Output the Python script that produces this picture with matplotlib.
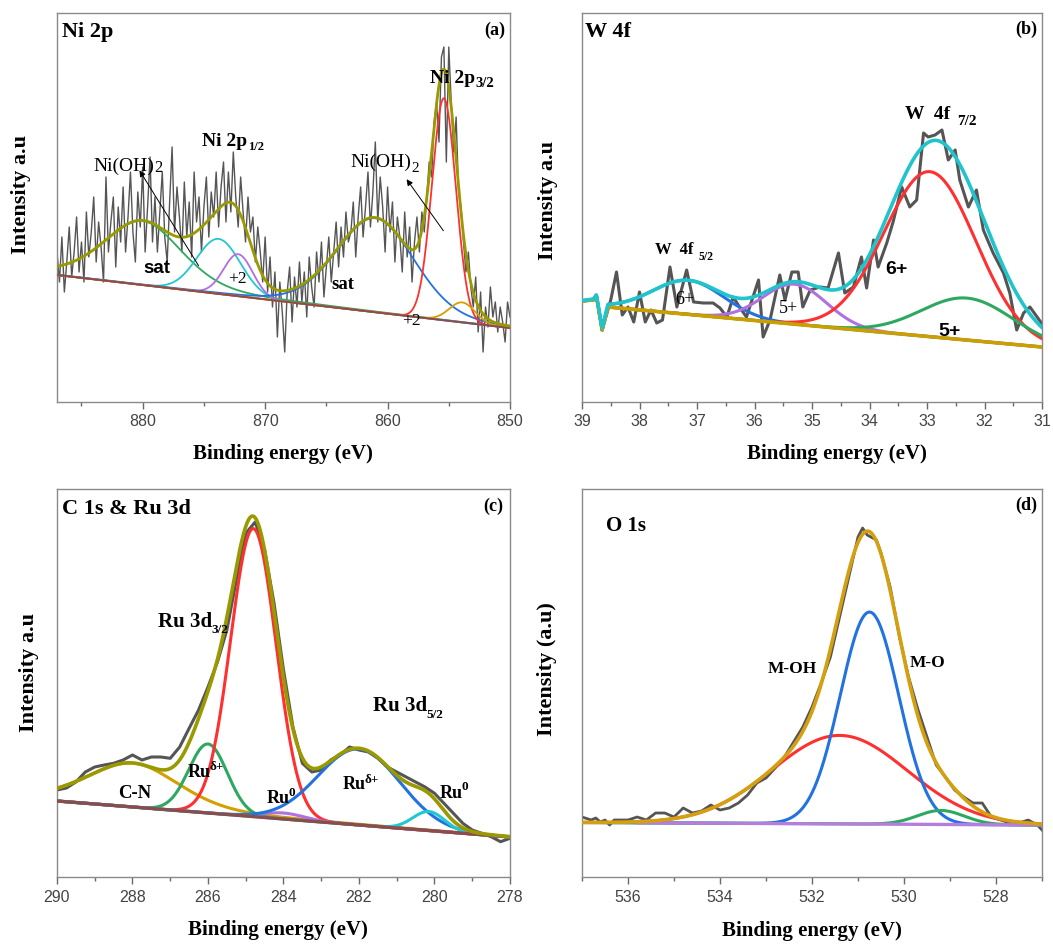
import numpy as np
import matplotlib
matplotlib.use('Agg')
import matplotlib.pyplot as plt
from matplotlib.ticker import MultipleLocator

W, H = 1053, 944
SERIF = 'Liberation Serif'
SANS = 'Liberation Sans'

# ---------------- data ----------------
# (a) Ni 2p : raw counts, 887.0 -> 850.0 eV, 0.2 eV step
E_a = np.round(np.arange(887.0, 849.99, -0.2), 1)
I_a = [150, 120, 165, 110, 140, 175, 125, 150, 185, 130,
       160, 120, 190, 145, 170, 205, 140, 180, 155, 120,
       225, 150, 180, 205, 135, 195, 160, 215, 150, 185,
       230, 170, 140, 210, 175, 235, 150, 195, 245, 160,
       205, 150, 190, 230, 165, 140, 200, 255, 170, 215,
       185, 150, 220, 165, 200, 145, 230, 180, 205, 150,
       195, 225, 165, 210, 185, 230, 175, 215, 240, 180,
       230, 190, 250, 205, 175, 225, 190, 160, 205, 170,
       185, 140, 175, 150, 120, 165, 110, 145, 95, 130,
       65, 120, 90, 50, 110, 135, 80, 125, 95, 140,
       100, 130, 85, 145, 115, 95, 150, 120, 160, 105,
       135, 165, 120, 150, 180, 135, 175, 145, 190, 160,
       170, 200, 145, 185, 215, 165, 195, 230, 175, 210,
       260, 180, 225, 195, 150, 215, 170, 200, 140, 185,
       165, 130, 190, 145, 175, 120, 160, 185, 150, 190,
       170, 205, 240, 225, 280, 300, 260, 345, 355, 240,
       355, 300, 250, 285, 210, 195, 160, 130, 150, 115,
       95, 125, 70, 110, 50, 95, 75, 115, 85, 100,
       70, 95, 80, 60, 100, 85]
bg_a_E = [887.0, 850.0]
bg_a_I = [127, 74]
# peaks: centre (eV), height, FWHM (eV), Lorentzian fraction
pk_a_c = [880.0, 873.8, 872.2, 861.0, 855.4, 853.9]
pk_a_h = [64, 55, 42, 94, 222, 20]
pk_a_w = [7.5, 4.2, 2.8, 7.5, 2.3, 2.5]
pk_a_e = [0.3, 0.0, 0.0, 0.15, 0.0, 0.0]
pk_a_col = ['#2ea860', '#22c8d0', '#b070e0', '#2272e0', '#ff3030', '#d4a000']

# (b) W 4f
E_b = [38.65, 38.6, 38.5, 38.4, 38.3, 38.2, 38.1, 38.0, 37.9, 37.8,
       37.7, 37.6, 37.47, 37.35, 37.18, 37.06, 36.89, 36.72, 36.6, 36.48,
       36.37, 36.25, 36.14, 35.93, 35.85, 35.73, 35.56, 35.47, 35.35, 35.24,
       35.16, 35.03, 34.86, 34.72, 34.54, 34.43, 34.28, 34.14, 34.05, 33.93,
       33.85, 33.7, 33.59, 33.44, 33.3, 33.18, 33.06, 32.98, 32.86, 32.74,
       32.63, 32.51, 32.43, 32.28, 32.14, 32.02, 31.85, 31.67, 31.56, 31.44,
       31.32, 31.21, 31.01]
I_b = [72, 82, 102, 130, 87, 95, 80, 110, 80, 92,
       79, 82, 135, 95, 132, 100, 99, 99, 94, 85,
       105, 94, 85, 122, 65, 82, 127, 102, 130, 130,
       95, 112, 115, 114, 149, 109, 115, 145, 114, 162,
       135, 159, 180, 215, 195, 202, 269, 265, 267, 272,
       242, 252, 222, 195, 212, 172, 149, 129, 109, 72,
       89, 95, 79]
bg_b_E = [39.0, 38.8, 38.75, 38.65, 38.55, 31.0]
bg_b_I = [101, 102, 106, 72, 95, 55]
pk_b_c = [37.15, 35.3, 32.95, 32.3]
pk_b_h = [34, 40, 165, 42]
pk_b_w = [1.45, 1.3, 1.88, 1.88]
pk_b_e = [0.0, 0.0, 0.0, 0.0]
pk_b_col = ['#2272e0', '#b070e0', '#ff3030', '#2ea860']

# (c) C 1s & Ru 3d : 290 -> 278 eV, 0.25 eV step
E_c = np.round(np.arange(290.0, 277.99, -0.25), 2)
I_c = [87, 89, 95, 105, 110, 112, 113.7, 117, 122, 117,
       120, 120, 118.7, 130, 148.7, 167, 190, 215, 247, 297,
       343.7, 355, 327, 273.7, 207, 150, 113.7, 105, 107, 117,
       122, 130, 127, 125, 118.7, 110, 105, 100, 95, 90,
       83.7, 73.7, 63.7, 53.7, 47, 43.7, 40.3, 35.3, 38.7]
bg_c_E = [290.0, 278.0]
bg_c_I = [76, 40]
pk_c_c = [288.0, 286.0, 284.8, 284.0, 282.0, 280.15]
pk_c_h = [44, 69, 288, 6, 76, 19]
pk_c_w = [2.9, 1.2, 1.42, 1.3, 2.55, 1.0]
pk_c_e = [0.3, 0.0, 0.0, 0.0, 0.0, 0.0]
pk_c_col = ['#d4a000', '#2ea860', '#ff3030', '#b070e0', '#2272e0', '#22c8d0']

# (d) O 1s
E_d = [537.0, 536.8, 536.7, 536.6, 536.5, 536.4, 536.3, 536.0, 535.8, 535.6,
       535.4, 535.2, 535.0, 534.8, 534.6, 534.4, 534.2, 534.0, 533.8, 533.6,
       533.4, 533.2, 533.0, 532.8, 532.6, 532.4, 532.2, 532.0, 531.8, 531.6,
       531.4, 531.2, 531.0, 530.9, 530.8, 530.6, 530.5, 530.3, 530.1, 529.9,
       529.7, 529.5, 529.3, 529.1, 528.9, 528.7, 528.5, 528.3, 528.1, 527.9,
       527.7, 527.5, 527.3, 527.1, 527.0]
I_d = [60, 57, 59, 55, 57, 52, 57, 57, 60, 57,
       64, 64, 60, 69, 64, 66, 72, 67, 69, 74,
       82, 94, 99, 109, 120, 135, 150, 170, 194, 220,
       260, 300, 340, 349, 342, 337, 324, 290, 240, 200,
       168, 140, 112, 100, 87, 80, 74, 74, 60, 57,
       54, 54, 57, 52, 47]
bg_d_E = [537.0, 527.0]
bg_d_I = [54.5, 52]
pk_d_c = [531.4, 530.75, 529.2]
pk_d_h = [88.5, 212, 14]
pk_d_w = [3.47, 1.5, 1.2]
pk_d_e = [0.0, 0.0, 0.0]
pk_d_col = ['#ff3030', '#2272e0', '#2ea860']


def pv(x, c, h, f, eta):
    d = (x - c) / f
    return h * (eta / (1 + 4 * d * d) + (1 - eta) * np.exp(-4 * np.log(2) * d * d))


fig = plt.figure(figsize=(W / 100, H / 100), dpi=100)
renderer = fig.canvas.get_renderer()


def make_ax(l, t, r, b):
    ax = fig.add_axes([l / W, 1 - b / H, (r - l) / W, (b - t) / H])
    for s in ax.spines.values():
        s.set_color('#8a8a8a')
        s.set_linewidth(1.0)
    ax.set_yticks([])
    ax.tick_params(axis='x', which='major', direction='out', length=5, width=1,
                   color='#6a6a6a', labelsize=11.5, labelcolor='#444444', pad=4)
    ax.tick_params(axis='x', which='minor', direction='out', length=3, width=1,
                   color='#6a6a6a')
    return ax


def draw_panel(ax, xlim, E, I, bgE, bgI, pc, ph, pw, pe, pcol, env_col,
               bg_col, raw_lw, lw, env_lw, bg_lw, bg_range=None):
    x = np.linspace(xlim[0], xlim[1], 2000)
    bg = np.interp(x, np.array(bgE)[::-1], np.array(bgI)[::-1])
    ax.plot(E, I, color='#555555', lw=raw_lw, zorder=1)
    total = np.zeros_like(x)
    for c, h, w, e, col in zip(pc, ph, pw, pe, pcol):
        y = pv(x, c, h, w, e)
        total += y
        ax.plot(x, bg + y, color=col, lw=lw, zorder=3)
    if bg_range is None:
        m = np.ones_like(x, dtype=bool)
    else:
        m = (x <= bg_range[0]) & (x >= bg_range[1])
    ax.plot(x[m], bg[m], color=bg_col, lw=bg_lw, zorder=3.5)
    ax.plot(x, bg + total, color=env_col, lw=env_lw, zorder=4)
    ax.set_xlim(*xlim)


def ftext(x, y, s, size, weight='bold', family=SERIF, sub=None, sup=None,
          ssize=9, dy=0, gap=0.5, **kw):
    t = fig.text(x / W, 1 - y / H, s, fontsize=size, fontweight=weight,
                 family=family, ha='left', va='baseline', **kw)
    if sub is not None or sup is not None:
        bb = t.get_window_extent(renderer)
        x2 = bb.x1 + gap
        fig.text(x2 / W, 1 - (y + dy) / H, sub if sub is not None else sup,
                 fontsize=ssize, fontweight=weight, family=family,
                 ha='left', va='baseline', **kw)
    return t


# ---------------- panel a ----------------
axa = make_ax(57, 13, 510, 402)
draw_panel(axa, (887, 850), E_a, I_a, bg_a_E, bg_a_I, pk_a_c, pk_a_h, pk_a_w,
           pk_a_e, pk_a_col, '#9a9a00', '#8b4c4c', 1.0, 1.3, 2.0, 1.4)
axa.set_ylim(0, 389)
axa.xaxis.set_major_locator(MultipleLocator(10))
axa.xaxis.set_minor_locator(MultipleLocator(5))

# ---------------- panel b ----------------
axb = make_ax(582, 13, 1042, 402)
draw_panel(axb, (39, 31), E_b, I_b, bg_b_E, bg_b_I, pk_b_c, pk_b_h, pk_b_w,
           pk_b_e, pk_b_col, '#1fc4cc', '#c9a000', 2.2, 2.2, 2.6, 2.6)
axb.set_ylim(0, 389)
axb.xaxis.set_major_locator(MultipleLocator(1))
axb.xaxis.set_minor_locator(MultipleLocator(0.5))

# ---------------- panel c ----------------
axc = make_ax(57, 489, 510, 877)
draw_panel(axc, (290, 278), E_c, I_c, bg_c_E, bg_c_I, pk_c_c, pk_c_h, pk_c_w,
           pk_c_e, pk_c_col, '#9a9a00', '#8b4c4c', 2.2, 2.2, 2.6, 2.4)
axc.set_ylim(0, 388)
axc.xaxis.set_major_locator(MultipleLocator(2))
axc.xaxis.set_minor_locator(MultipleLocator(1))

# ---------------- panel d ----------------
axd = make_ax(582, 489, 1042, 877)
draw_panel(axd, (537, 527), E_d, I_d, bg_d_E, bg_d_I, pk_d_c, pk_d_h, pk_d_w,
           pk_d_e, pk_d_col, '#d4a010', '#b57edc', 2.0, 2.2, 2.6, 2.4,
           bg_range=(535.8, 527))
axd.set_ylim(0, 388)
axd.xaxis.set_major_locator(MultipleLocator(2))
axd.xaxis.set_minor_locator(MultipleLocator(1))

for ax in (axa, axb, axc, axd):
    for lab in ax.get_xticklabels():
        lab.set_family(SANS)

# ---------------- axis labels ----------------
for xc, yb in ((283, 459), (837, 459), (278, 935), (812, 936)):
    fig.text(xc / W, 1 - yb / H, 'Binding energy (eV)', fontsize=15,
             fontweight='bold', family=SERIF, ha='center', va='baseline')
for xc, yc, s in ((21, 194, 'Intensity a.u'), (548, 200, 'Intensity a.u'),
                  (29, 672, 'Intensity a.u'), (547, 669, 'Intensity (a.u)')):
    fig.text(xc / W, 1 - yc / H, s, fontsize=16, fontweight='bold',
             family=SERIF, ha='center', va='center', rotation=90)

# ---------------- panel titles ----------------
ftext(62, 37, 'Ni 2p', 16)
ftext(585, 37, 'W 4f', 16)
ftext(62, 514, 'C 1s & Ru 3d', 16)
ftext(606, 531, 'O 1s', 15)
for xr, yb, s in ((505, 35, '(a)'), (1037, 34, '(b)'), (503, 511, '(c)'),
                  (1037, 510, '(d)')):
    fig.text(xr / W, 1 - yb / H, s, fontsize=13, fontweight='bold',
             family=SERIF, ha='right', va='baseline')

# ---------------- annotations a ----------------
ftext(93, 171, 'Ni(OH)', 14, weight='normal', sub='2', ssize=12, dy=1)
ftext(202, 146, 'Ni 2p', 14, sub='1/2', ssize=9, dy=4)
ftext(430, 83, 'Ni 2p', 14, sub='3/2', ssize=10.5, dy=4)
ftext(350, 167, 'Ni(OH)', 14, weight='normal', sub='2', ssize=11, dy=5)
ftext(143, 273, 'sat', 13.5, family=SANS)
ftext(331, 289, 'sat', 13.5)
ftext(228, 283, '+2', 12.5, weight='normal')
ftext(402, 325, '+2', 12.5, weight='normal')
for (x0, y0), (x1, y1) in (((200, 268), (138, 168)), ((445, 233), (405, 177))):
    fig.add_artist(matplotlib.patches.FancyArrowPatch(
        (x0 / W, 1 - y0 / H), (x1 / W, 1 - y1 / H), transform=fig.transFigure,
        arrowstyle='-|>', mutation_scale=9, color='black', lw=0.7))

# ---------------- annotations b ----------------
ftext(905, 119, 'W  4f', 14, sub='7/2', ssize=11, dy=6, gap=7)
ftext(655, 254, 'W  4f', 12, sub='5/2', ssize=8.5, dy=6, gap=5)
ftext(675, 304, '6+', 13, weight='normal')
ftext(779, 313, '5+', 13, weight='normal')
ftext(885, 274, '6+', 14, family=SANS)
ftext(938, 336, '5+', 14, family=SANS)

# ---------------- annotations c ----------------
ftext(158, 627, 'Ru 3d', 15, sub='3/2', ssize=9.5, dy=6, gap=-0.5)
ftext(373, 711, 'Ru 3d', 15, sub='5/2', ssize=9.5, dy=6.5, gap=-0.5)
ftext(188, 777, 'Ru', 13, sup='δ+', ssize=9.5, dy=-7.5, gap=-1.5)
ftext(118, 798, 'C-N', 13.5)
ftext(267, 803, 'Ru', 13, sup='0', ssize=9.5, dy=-7.5, gap=-1.5)
ftext(343, 789, 'Ru', 13, sup='δ+', ssize=9.5, dy=-6, gap=-1.5)
ftext(440, 798, 'Ru', 13, sup='0', ssize=9.5, dy=-7.5, gap=-1.5)

# ---------------- annotations d ----------------
ftext(768, 673, 'M-OH', 12.5)
ftext(910, 667, 'M-O', 12.5)

fig.savefig('out.png', dpi=100)
